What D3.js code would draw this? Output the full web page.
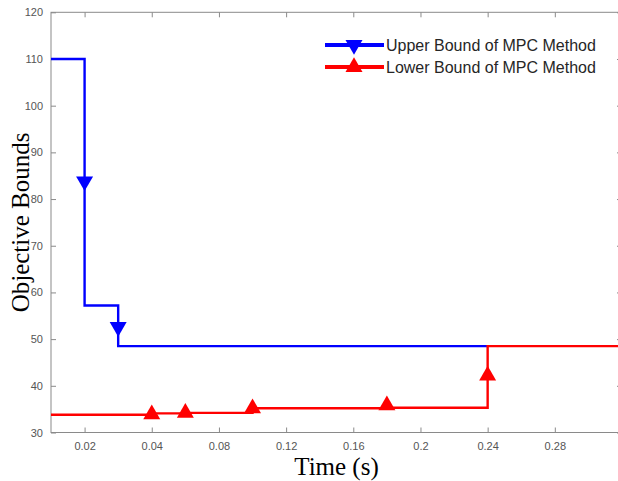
<!DOCTYPE html>
<html>
<head>
<meta charset="utf-8">
<script src="https://cdn.jsdelivr.net/npm/d3@7"></script>
<style>
  body { margin: 0; background: #fff; }
  svg { display: block; }
</style>
</head>
<body>
<div id="chart"></div>
<script>
// Dati
const upperT = [-0.02, 0, 0.02, 0.24];
const upperV = [110, 57.2, 48.5, 48.5];
const upperMarkT = [0, 0.02];
const upperMarkV = [83.8, 52.6];

const lowerT = [-0.02, 0.04, 0.06, 0.10, 0.18, 0.24, 0.32];
const lowerV = [33.8, 34.1, 34.2, 35.2, 35.3, 48.5, 48.5];
const lowerMarkT = [0.04, 0.06, 0.10, 0.18, 0.24];
const lowerMarkV = [33.9, 34.2, 35.2, 35.8, 42.2];

const xTickValues = [0, 0.04, 0.08, 0.12, 0.16, 0.20, 0.24, 0.28];
const xTickLabels = ["0.02", "0.04", "0.08", "0.12", "0.16", "0.2", "0.24", "0.28"];
const yTickValues = [30, 40, 50, 60, 70, 80, 90, 100, 110, 120];

const legendNames = ["Upper Bound of MPC Method", "Lower Bound of MPC Method"];

const width = 618, height = 481;
const plotL = 51, plotR = 622, plotT = 12.3, plotB = 432.5;

const svg = d3.select("#chart").append("svg")
    .attr("width", width)
    .attr("height", height);

const x = d3.scaleLinear().domain([-0.02, 0.32]).range([plotL, plotR]);
const y = d3.scaleLinear().domain([30, 120]).range([plotB, plotT]);

const axisColor = "#8a8a8a";
const labelColor = "#555";

// assi (tick verso l'interno)
function styleAxis(g) {
    g.select(".domain").remove();
    g.selectAll(".tick line").attr("stroke", axisColor);
    g.selectAll(".tick text").attr("fill", labelColor)
        .style("font-family", "'Liberation Sans', Arial, sans-serif")
        .style("font-size", "11px");
}

svg.append("g")
    .attr("transform", `translate(0,${plotB})`)
    .call(d3.axisBottom(x).tickValues(xTickValues)
        .tickFormat((d, i) => xTickLabels[i]).tickSizeInner(-5).tickPadding(10))
    .call(styleAxis);

svg.append("g")
    .attr("transform", `translate(0,${plotT})`)
    .call(d3.axisTop(x).tickValues(xTickValues).tickFormat("").tickSizeInner(-5))
    .call(styleAxis);

svg.append("g")
    .attr("transform", `translate(${plotL},0)`)
    .call(d3.axisLeft(y).tickValues(yTickValues).tickSizeInner(-5).tickPadding(8))
    .call(styleAxis);

svg.append("g")
    .attr("transform", `translate(${plotR},0)`)
    .call(d3.axisRight(y).tickValues(yTickValues).tickFormat("").tickSizeInner(-5))
    .call(styleAxis);

// box
svg.append("rect")
    .attr("x", plotL).attr("y", plotT)
    .attr("width", plotR - plotL).attr("height", plotB - plotT)
    .attr("fill", "none")
    .attr("stroke", axisColor)
    .attr("stroke-width", 1);

const line = d3.line()
    .x(d => x(d[0]))
    .y(d => y(d[1]))
    .curve(d3.curveStepAfter);

const tri = d3.symbol().type(d3.symbolTriangle).size(125);

function drawSeries(ts, vs, mts, mvs, color, down) {
    svg.append("path")
        .datum(ts.map((t, i) => [t, vs[i]]))
        .attr("fill", "none")
        .attr("stroke", color)
        .attr("stroke-width", 2.4)
        .attr("d", line);
    svg.selectAll(null)
        .data(mts.map((t, i) => [t, mvs[i]]))
        .enter().append("path")
        .attr("d", tri)
        .attr("fill", color)
        .attr("transform", d => `translate(${x(d[0])},${y(d[1])})` + (down ? " rotate(180)" : ""));
}

drawSeries(upperT, upperV, upperMarkT, upperMarkV, "#0000ff", true);
drawSeries(lowerT, lowerV, lowerMarkT, lowerMarkV, "#ff0000", false);

// legenda
const legend = svg.append("g");
[["#0000ff", true], ["#ff0000", false]].forEach(([color, down], i) => {
    const ly = 45 + i * 22;
    legend.append("line")
        .attr("x1", 325).attr("x2", 384)
        .attr("y1", ly).attr("y2", ly)
        .attr("stroke", color).attr("stroke-width", 4);
    legend.append("path")
        .attr("d", tri)
        .attr("fill", color)
        .attr("transform", `translate(354,${ly})` + (down ? " rotate(180)" : ""));
    legend.append("text")
        .attr("x", 386).attr("y", ly + 5.5)
        .attr("fill", "#262626")
        .style("font-family", "'Liberation Sans', Arial, sans-serif")
        .style("font-size", "16px")
        .text(legendNames[i]);
});

// titoli degli assi
svg.append("text")
    .attr("x", (plotL + plotR) / 2)
    .attr("y", 475)
    .attr("text-anchor", "middle")
    .style("font-family", "'Liberation Serif', 'Times New Roman', serif")
    .style("font-size", "25px")
    .text("Time (s)");

svg.append("text")
    .attr("transform", `translate(29,${(plotT + plotB) / 2}) rotate(-90)`)
    .attr("text-anchor", "middle")
    .style("font-family", "'Liberation Serif', 'Times New Roman', serif")
    .style("font-size", "25px")
    .text("Objective Bounds");
</script>
</body>
</html>
